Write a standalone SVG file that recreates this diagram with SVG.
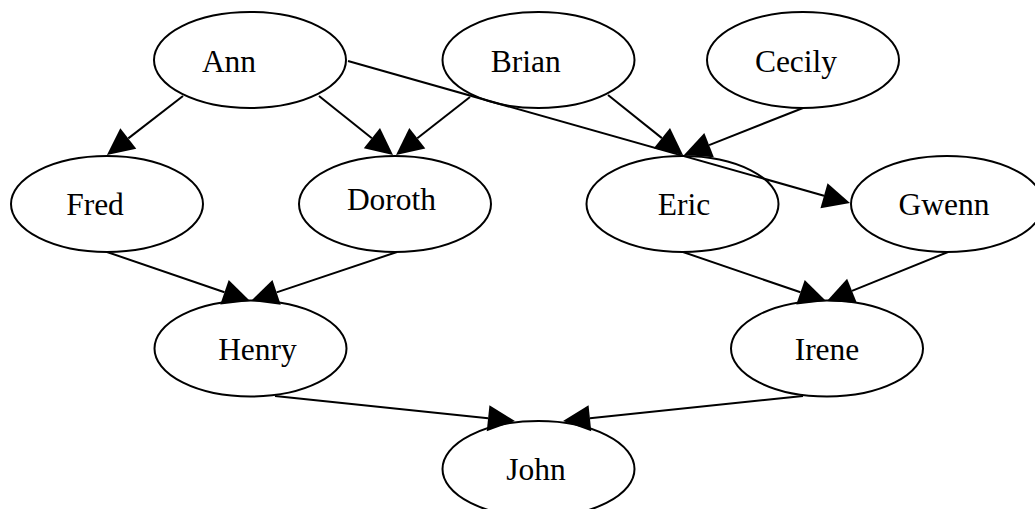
<svg xmlns="http://www.w3.org/2000/svg" width="1035" height="509" viewBox="0 0 1035 509">
<style>
.node ellipse{fill:#fff;stroke:#000;stroke-width:2}
.node text{font-family:'Liberation Serif',serif;font-size:31.5px;fill:#000;text-anchor:middle}
.edges line{stroke:#000;stroke-width:2;marker-end:url(#arr)}
</style>
<defs>
<marker id="arr" markerUnits="userSpaceOnUse" markerWidth="30" markerHeight="30" refX="0" refY="13" orient="auto" overflow="visible">
<path d="M0,0 L27,13 L0,26 Z" fill="#000"/>
</marker>
</defs>
<rect width="1035" height="509" fill="#fff"/>
<g id="n-ann" class="node"><ellipse cx="250" cy="60" rx="96" ry="48"/><text x="229" y="72" font-family="Liberation Serif, serif">Ann</text></g>
<g id="n-brian" class="node"><ellipse cx="538.5" cy="60" rx="96" ry="48"/><text x="525.7" y="72" font-family="Liberation Serif, serif">Brian</text></g>
<g id="n-cecily" class="node"><ellipse cx="803" cy="60" rx="96" ry="48"/><text x="796" y="72" font-family="Liberation Serif, serif">Cecily</text></g>
<g id="n-fred" class="node"><ellipse cx="107" cy="204" rx="96" ry="48"/><text x="95" y="215" font-family="Liberation Serif, serif">Fred</text></g>
<g id="n-doroth" class="node"><ellipse cx="395" cy="204" rx="96" ry="48"/><text x="391.5" y="210" font-family="Liberation Serif, serif">Doroth</text></g>
<g id="n-eric" class="node"><ellipse cx="682.5" cy="204" rx="96" ry="48"/><text x="684" y="215" font-family="Liberation Serif, serif">Eric</text></g>
<g id="n-gwenn" class="node"><ellipse cx="947" cy="204" rx="96" ry="48"/><text x="944" y="215" font-family="Liberation Serif, serif">Gwenn</text></g>
<g id="n-henry" class="node"><ellipse cx="250.5" cy="348.5" rx="96" ry="48"/><text x="257.5" y="360" font-family="Liberation Serif, serif">Henry</text></g>
<g id="n-irene" class="node"><ellipse cx="827" cy="348.5" rx="96" ry="48"/><text x="827" y="360" font-family="Liberation Serif, serif">Irene</text></g>
<g id="n-john" class="node"><ellipse cx="538.5" cy="469" rx="96" ry="48"/><text x="536" y="480" font-family="Liberation Serif, serif">John</text></g>
<g id="edges" class="edges">
<line x1="183" y1="96" x2="128.3" y2="138.4"/>
<line x1="319" y1="96" x2="371.9" y2="138.2"/>
<line x1="470" y1="97" x2="417.3" y2="138.3"/>
<line x1="348" y1="61" x2="824" y2="195.7"/>
<line x1="608" y1="95" x2="661.9" y2="138.1"/>
<line x1="803" y1="108" x2="709.1" y2="145.1"/>
<line x1="107" y1="252" x2="224.5" y2="292.3"/>
<line x1="397" y1="252" x2="276.6" y2="292.4"/>
<line x1="683" y1="252" x2="800.5" y2="292.3"/>
<line x1="948" y1="252" x2="852" y2="290.9"/>
<line x1="275" y1="396" x2="488.1" y2="418.2"/>
<line x1="803" y1="396" x2="589.9" y2="418.2"/>
</g>
</svg>
